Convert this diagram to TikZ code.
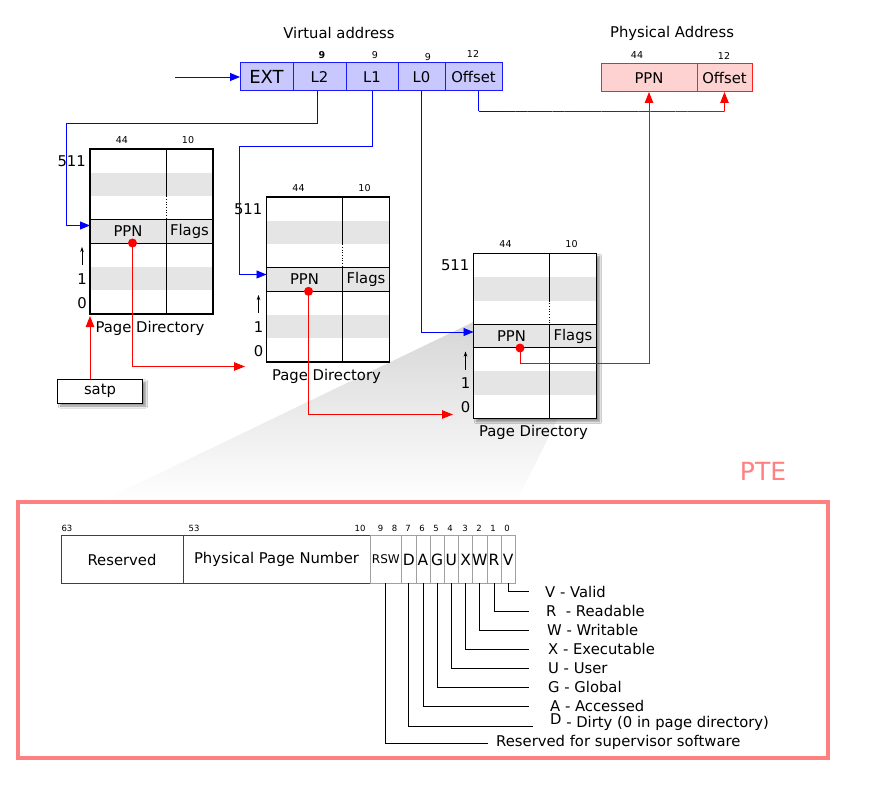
\documentclass[tikz,border=0pt]{standalone}
\usepackage{fontspec}
\setmainfont{DejaVu Sans}
\usetikzlibrary{arrows.meta,shadows,shadows.blur,calc}
\definecolor{vafill}{HTML}{C8C8FF}
\definecolor{vadraw}{HTML}{1A1AFF}
\definecolor{pafill}{HTML}{FFD2D2}
\definecolor{padraw}{HTML}{FF2020}
\definecolor{band}{HTML}{E5E5E5}
\definecolor{ptecol}{HTML}{FF8080}
\definecolor{bitgray}{HTML}{A0A0A0}
\newcommand\fsz[1]{\fontsize{#1}{#1}\selectfont}
\tikzset{
  va/.style={draw=vadraw, fill=vafill, line width=1pt, minimum height=28, inner sep=0, outer sep=0, anchor=west, font=\fsz{14.8}},
  pa/.style={draw=padraw, fill=pafill, line width=1pt, minimum height=28, inner sep=0, outer sep=0, anchor=west, font=\fsz{14.8}},
  tinylbl/.style={font=\fsz{9.5}, inner sep=0},
  lbl/.style={font=\fsz{14.8}, inner sep=0},
  pdframe/.style={draw, line width=1.1pt, fill=white, minimum width=123, minimum height=165, inner sep=0, outer sep=0, anchor=north west},
  pdcell/.style={minimum height=23.57, inner sep=0, outer sep=0, font=\fsz{14.8}},
  reddot/.style={circle, fill=red, minimum size=9, inner sep=0},
  bluearrow/.style={draw=blue, line width=0.9pt, -{Triangle[length=10pt,width=8pt]}},
  redarrow/.style={draw=red, line width=0.9pt, -{Triangle[length=11pt,width=8.5pt]}},
  bitbox/.style={draw=bitgray, line width=0.7pt, minimum height=47.5, inner sep=0, outer sep=0, anchor=west, font=\fsz{15.5}},
  fieldbox/.style={draw=black!75, line width=0.9pt, minimum height=47.5, inner sep=0, outer sep=0, anchor=west, font=\fsz{14.8}},
  bitnum/.style={font=\fsz{8.5}, inner sep=0},
  leader/.style={draw=black, line width=0.8pt},
  legend/.style={font=\fsz{14.8}, inner sep=0, anchor=west},
  myshadow/.style={blur shadow={shadow xshift=3pt, shadow yshift=-3pt, shadow blur steps=6, shadow opacity=45}},
}
\newcommand\PDtable[4]{%
\begin{scope}[shift={(#2,#3)}]
\node[pdframe,#4] (#1) at (0,0) {};
\fill[band] (0,23.57) rectangle (123,47.14);
\fill[band] (0,70.71) rectangle (123,94.29);
\fill[band] (0,117.86) rectangle (123,141.43);
\draw[line width=0.9pt] (0,70.71) -- (123,70.71) (0,94.29) -- (123,94.29);
\draw[line width=0.9pt] (76,0) -- (76,47.14) (76,70.71) -- (76,165);
\draw[line width=0.7pt, dotted] (76,47.14) -- (76,70.71);
\node[pdcell, minimum width=76] (#1ppn) at (38,82.5) {PPN};
\node[pdcell, minimum width=47] (#1flags) at (99.5,82.5) {Flags};
\draw[line width=1.1pt] (0,0) rectangle (123,165);
\node[tinylbl] at (32,-9) {44};
\node[tinylbl] at (98,-9) {10};
\node[lbl, anchor=east] at (-4,12) {511};
\draw[-{Stealth[length=5pt,width=3.5pt]}, line width=0.6pt] (-8,116) -- (-8,98);
\node[lbl] at (-8,130) {1};
\node[lbl] at (-8,154) {0};
\node[lbl] at (60,179) {Page Directory};
\end{scope}}
\begin{document}
\begin{tikzpicture}[x=1pt,y=-1pt]
\fill[white] (0,0) rectangle (880,786);
\useasboundingbox (0,0) rectangle (880,786);

% cone
\shade[top color=black!16, bottom color=white] (473.5,322) -- (558,418) -- (516,502) -- (100,502) -- cycle;

% virtual address
\node[lbl] at (339,33) {Virtual address};
\node[va, minimum width=53] (ext) at (240,77) {\fsz{18}EXT};
\node[va, minimum width=53] (l2) at (ext.east) {L2};
\node[va, minimum width=52] (l1) at (l2.east) {L1};
\node[va, minimum width=47] (l0) at (l1.east) {L0};
\node[va, minimum width=57] (vaoff) at (l0.east) {Offset};
\node[tinylbl] at (322,55) {\bfseries 9};
\node[tinylbl] at (375,55) {9};
\node[tinylbl] at (428,57) {9};
\node[tinylbl] at (473,54) {12};
\coordinate (vin) at (175,77);
\draw[bluearrow] (vin) -- (ext.west);

% physical address
\node[lbl] at (672,33) {Physical Address};
\node[pa, minimum width=96] (pappn) at (601,78) {PPN};
\node[pa, minimum width=55] (paoff) at (pappn.east) {Offset};
\node[tinylbl] at (637,55) {44};
\node[tinylbl] at (724,56) {12};

% page directories
\PDtable{d1}{90}{149}{}
\PDtable{d2}{266.5}{197}{}
\PDtable{d3}{473.5}{253.5}{myshadow}

% satp
\node[draw, line width=1pt, fill=white, minimum width=85, minimum height=24, inner sep=0, outer sep=0, font=\fsz{14.8}, myshadow] (satp) at (100,391) {satp};

% blue connectors
\coordinate (b1) at (66,123);
\draw[bluearrow] ([xshift=-2.5pt]l2.south) |- (b1) |- ([yshift=6pt]d1ppn.west);
\coordinate (b2) at (239,146.5);
\draw[bluearrow] (l1.south) |- (b2) |- ([yshift=5pt]d2ppn.west);
\draw[bluearrow] (l0.south) |- ([yshift=4pt]d3ppn.west);

% offset connector (blue to red)
\coordinate (oA) at (478.5,111.5);
\coordinate (oB) at (paoff.south |- oA);
\draw[blue, line width=0.9pt] (oA |- vaoff.south) -- (oA);
\foreach \i [evaluate=\i as \p using int(\i*5), evaluate=\i as \q using (\i+1)/20, evaluate=\i as \r using \i/20] in {0,...,19}
  \draw[color=red!\p!blue, line width=0.9pt] ($(oA)!\r!(oB)$) -- ($(oA)!\q!(oB)$);
\draw[redarrow] (oB) -- (paoff.south);

% red dots and connectors
\node[reddot] (d1dot) at (132.5,243) {};
\node[reddot] (d2dot) at (308.5,291.3) {};
\node[reddot] (d3dot) at (520,348) {};
\draw[redarrow] (satp.north -| d1.south west) -- ([yshift=-2pt]d1.south west);
\coordinate (t1) at (245,366.5);
\draw[redarrow] (d1dot.center) |- (t1);
\coordinate (t2) at (453,414.5);
\draw[redarrow] (d2dot.center) |- (t2);
\coordinate (c3) at (649,363.5);
\draw[redarrow] (d3dot.center) |- (c3) -- (pappn.south);

% PTE
\node[font=\fsz{25}, text=ptecol, inner sep=0] at (763,471) {PTE};
\node[draw=ptecol, line width=4pt, minimum width=810, minimum height=256, inner sep=0, outer sep=0, anchor=north west] (ptebox) at (18,502) {};

\node[fieldbox, minimum width=122] (res) at (61,559.5) {Reserved};
\node[fieldbox, minimum width=187] (ppnf) at (res.east) {Physical Page Number};
\node[bitbox, minimum width=31.7] (brsw) at (370,559.5) {\makebox[0pt]{\fsz{12}RSW}};
\node[bitbox, minimum width=14.2] (bD) at (brsw.east) {\makebox[0pt]{D}};
\node[bitbox, minimum width=14.2] (bA) at (bD.east) {\makebox[0pt]{A}};
\node[bitbox, minimum width=14.2] (bG) at (bA.east) {\makebox[0pt]{G}};
\node[bitbox, minimum width=14.2] (bU) at (bG.east) {\makebox[0pt]{U}};
\node[bitbox, minimum width=14.2] (bX) at (bU.east) {\makebox[0pt]{X}};
\node[bitbox, minimum width=14.2] (bW) at (bX.east) {\makebox[0pt]{W}};
\node[bitbox, minimum width=14.2] (bR) at (bW.east) {\makebox[0pt]{R}};
\node[bitbox, minimum width=14.2] (bV) at (bR.east) {\makebox[0pt]{V}};

\node[bitnum] at (67,528) {63};
\node[bitnum] at (194,528) {53};
\node[bitnum] at (360,528) {10};
\node[bitnum] at (380.5,528) {9};
\node[bitnum] at (394.5,528) {8};
\node[bitnum] at (408,528) {7};
\node[bitnum] at (422,528) {6};
\node[bitnum] at (436,528) {5};
\node[bitnum] at (450,528) {4};
\node[bitnum] at (465,528) {3};
\node[bitnum] at (479,528) {2};
\node[bitnum] at (493,528) {1};
\node[bitnum] at (507,528) {0};

% leaders
\coordinate (eV) at (529,591);
\coordinate (eR) at (529,611);
\coordinate (eW) at (529,630);
\coordinate (eX) at (529,649);
\coordinate (eU) at (529,668);
\coordinate (eG) at (529,687);
\coordinate (eA) at (529,706);
\coordinate (eD) at (533,726);
\coordinate (eS) at (488,743.3);
\draw[leader] (bV.south) |- (eV);
\draw[leader] (bR.south) |- (eR);
\draw[leader] (bW.south) |- (eW);
\draw[leader] (bX.south) |- (eX);
\draw[leader] (bU.south) |- (eU);
\draw[leader] (bG.south) |- (eG);
\draw[leader] (bA.south) |- (eA);
\draw[leader] (bD.south) |- (eD);
\draw[leader] (brsw.south) |- (eS);

\node[legend] (lV) at (545,591.5) {V - Valid};
\node[legend] (lR) at (546,611) {R~ - Readable};
\node[legend] (lW) at (547,630) {W - Writable};
\node[legend] (lX) at (548,649) {X - Executable};
\node[legend] (lU) at (548,668) {U - User};
\node[legend] (lG) at (548,686.5) {G - Global};
\node[legend] (lA) at (550,705.5) {A - Accessed};
\node[legend] (lD) at (550,722) {\raisebox{2.5pt}{D} - Dirty (0 in page directory)};
\node[legend] (lS) at (496,742.5) {Reserved for supervisor software};
\end{tikzpicture}
\end{document}
